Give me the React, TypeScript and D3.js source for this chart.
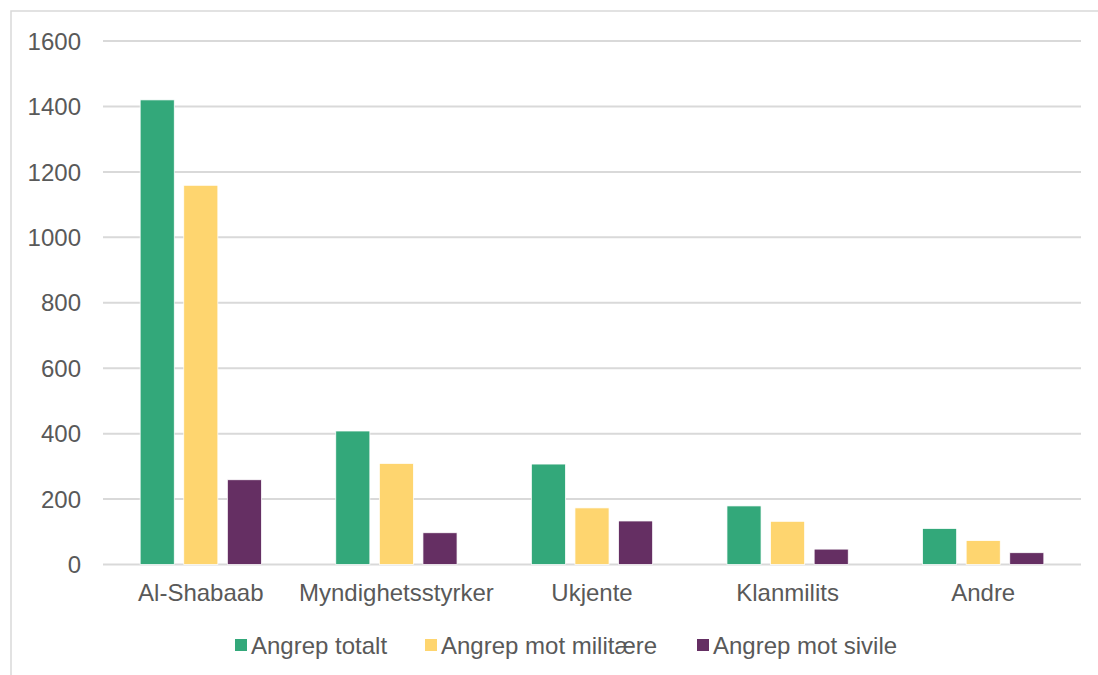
import * as d3 from "d3";
import { useEffect, useRef } from "react";

const categories = ["Al-Shabaab", "Myndighetsstyrker", "Ukjente", "Klanmilits", "Andre"];
const seriesNames = ["Angrep totalt", "Angrep mot militære", "Angrep mot sivile"];
const totalt = [1420, 408, 307, 179, 110];
const militaere = [1159, 309, 173, 132, 73];
const sivile = [259, 97, 133, 47, 36];
const yTicks = [0, 200, 400, 600, 800, 1000, 1200, 1400, 1600];
const colors = ["#33a87a", "#fed56f", "#652f63"];

export default function App() {
  const svgRef = useRef<SVGSVGElement>(null);

  useEffect(() => {
    if (!svgRef.current) return;
    const svg = d3.select(svgRef.current);
    svg.selectAll("*").remove();

    const width = 1098;
    const height = 675;
    const left = 103;
    const right = 1081;
    const top = 41;
    const bottom = 564.5;
    const font = "'Liberation Sans', Arial, sans-serif";
    const fontSize = "24px";
    const ink = "#595959";

    svg.attr("width", width).attr("height", height);

    // chart frame (runs off the right and bottom edge)
    svg
      .append("rect")
      .attr("x", 11)
      .attr("y", 11)
      .attr("width", width)
      .attr("height", height)
      .style("fill", "#fff")
      .style("stroke", "#d9d9d9")
      .style("stroke-width", 1.5);

    const y = d3.scaleLinear().domain([0, 1600]).range([bottom, top]);
    const x0 = d3.scaleBand().domain(categories).range([left, right]);
    const bw = x0.bandwidth();
    const x1 = d3
      .scaleBand()
      .domain(seriesNames)
      .range([bw * 0.19, bw * 0.81])
      .paddingInner(0.218);

    // gridlines
    svg
      .append("g")
      .selectAll("line")
      .data(yTicks)
      .enter()
      .append("line")
      .attr("x1", left)
      .attr("x2", right)
      .attr("y1", (d) => y(d))
      .attr("y2", (d) => y(d))
      .style("stroke", "#d9d9d9")
      .style("stroke-width", 2);

    // y labels
    svg
      .append("g")
      .selectAll("text")
      .data(yTicks)
      .enter()
      .append("text")
      .attr("x", 81)
      .attr("y", (d) => y(d))
      .attr("dy", "0.36em")
      .attr("text-anchor", "end")
      .style("font-family", font)
      .style("font-size", fontSize)
      .style("fill", ink)
      .text((d) => d);

    const values = [totalt, militaere, sivile];
    const rows = categories.flatMap((c, ci) =>
      seriesNames.map((s, si) => ({ cat: c, series: s, si, value: values[si][ci] }))
    );

    svg
      .append("g")
      .selectAll("rect")
      .data(rows)
      .enter()
      .append("rect")
      .attr("x", (d) => (x0(d.cat) ?? 0) + (x1(d.series) ?? 0))
      .attr("y", (d) => y(d.value))
      .attr("width", x1.bandwidth())
      .attr("height", (d) => y(0) - y(d.value))
      .style("fill", (d) => colors[d.si])
      .style("stroke", "#fff")
      .style("stroke-width", 0.75);

    // category labels
    svg
      .append("g")
      .selectAll("text")
      .data(categories)
      .enter()
      .append("text")
      .attr("x", (d) => (x0(d) ?? 0) + bw / 2)
      .attr("y", 601)
      .attr("text-anchor", "middle")
      .style("font-family", font)
      .style("font-size", fontSize)
      .style("fill", ink)
      .text((d) => d);

    // legend
    const legendX = [235, 425, 697];
    const lg = svg
      .append("g")
      .selectAll("g")
      .data(seriesNames)
      .enter()
      .append("g")
      .attr("transform", (_d, i) => `translate(${legendX[i]},645)`);
    lg.append("rect")
      .attr("x", 0)
      .attr("y", -6)
      .attr("width", 12)
      .attr("height", 12)
      .style("fill", (_d, i) => colors[i]);
    lg.append("text")
      .attr("x", 16)
      .attr("y", 0)
      .attr("dy", "0.36em")
      .style("font-family", font)
      .style("font-size", fontSize)
      .style("fill", ink)
      .text((d) => d);
  }, []);

  return <svg ref={svgRef} style={{ position: "absolute", left: 0, top: 0 }} />;
}
